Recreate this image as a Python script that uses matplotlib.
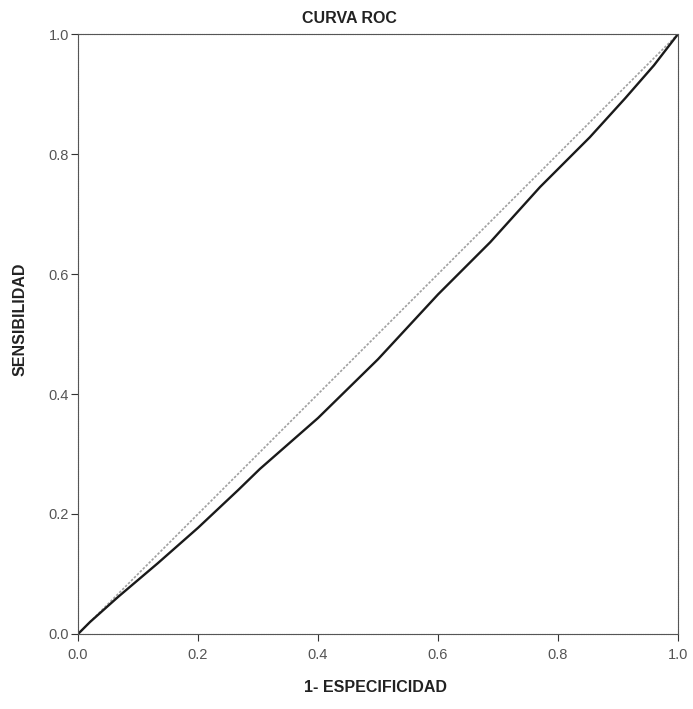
import matplotlib.pyplot as plt
import numpy as np

# ROC curve
fpr = [0.0, 0.02, 0.067, 0.133, 0.2, 0.267, 0.303, 0.4, 0.5, 0.6, 0.687,
       0.77, 0.853, 0.912, 0.96, 1.0]
tpr = [0.0, 0.02, 0.062, 0.118, 0.177, 0.24, 0.275, 0.36, 0.458, 0.566, 0.653,
       0.745, 0.828, 0.893, 0.948, 1.0]
ref = [0.0, 1.0]
ticks = [0.0, 0.2, 0.4, 0.6, 0.8, 1.0]
tick_labels = ["0.0", "0.2", "0.4", "0.6", "0.8", "1.0"]

plt.rcParams['font.family'] = ['Liberation Sans', 'DejaVu Sans']

fig = plt.figure(figsize=(6.93, 7.09), dpi=100)
ax = fig.add_axes([0.1126, 0.1058, 0.8658, 0.8462])

# diagonal reference line
ax.plot(ref, ref, color='#a0a0a0', lw=1.2, linestyle=(0, (1.5, 1)))
# roc curve
ax.plot(fpr, tpr, color='#1a1a1a', lw=1.7)

ax.set_xlim(0, 1)
ax.set_ylim(0, 1)
ax.set_xticks(ticks)
ax.set_xticklabels(tick_labels)
ax.set_yticks(ticks)
ax.set_yticklabels(tick_labels)
ax.tick_params(direction='out', length=5, width=0.8, colors='#333333',
               labelsize=10.5, labelcolor='#555555')
ax.tick_params(axis='x', pad=5)
ax.tick_params(axis='y', pad=1.5)

for s in ax.spines.values():
    s.set_color('#555555')
    s.set_linewidth(0.8)
    s.set_linestyle((0, (1, 0.6)))

ax.text(0.453, 1 + 10.7 / 600, "CURVA ROC", transform=ax.transAxes,
        ha='center', va='baseline', fontsize=11.5, fontweight='bold',
        color='#222222')
ax.set_xlabel("1- ESPECIFICIDAD", fontsize=11.5, fontweight='bold', color='#222222')
ax.set_ylabel("SENSIBILIDAD", fontsize=11.5, fontweight='bold', color='#222222')
ax.xaxis.set_label_coords(0.495, -0.077)
ax.yaxis.set_label_coords(-0.085, 0.525)

fig.savefig("out.png", dpi=100, facecolor='white')
